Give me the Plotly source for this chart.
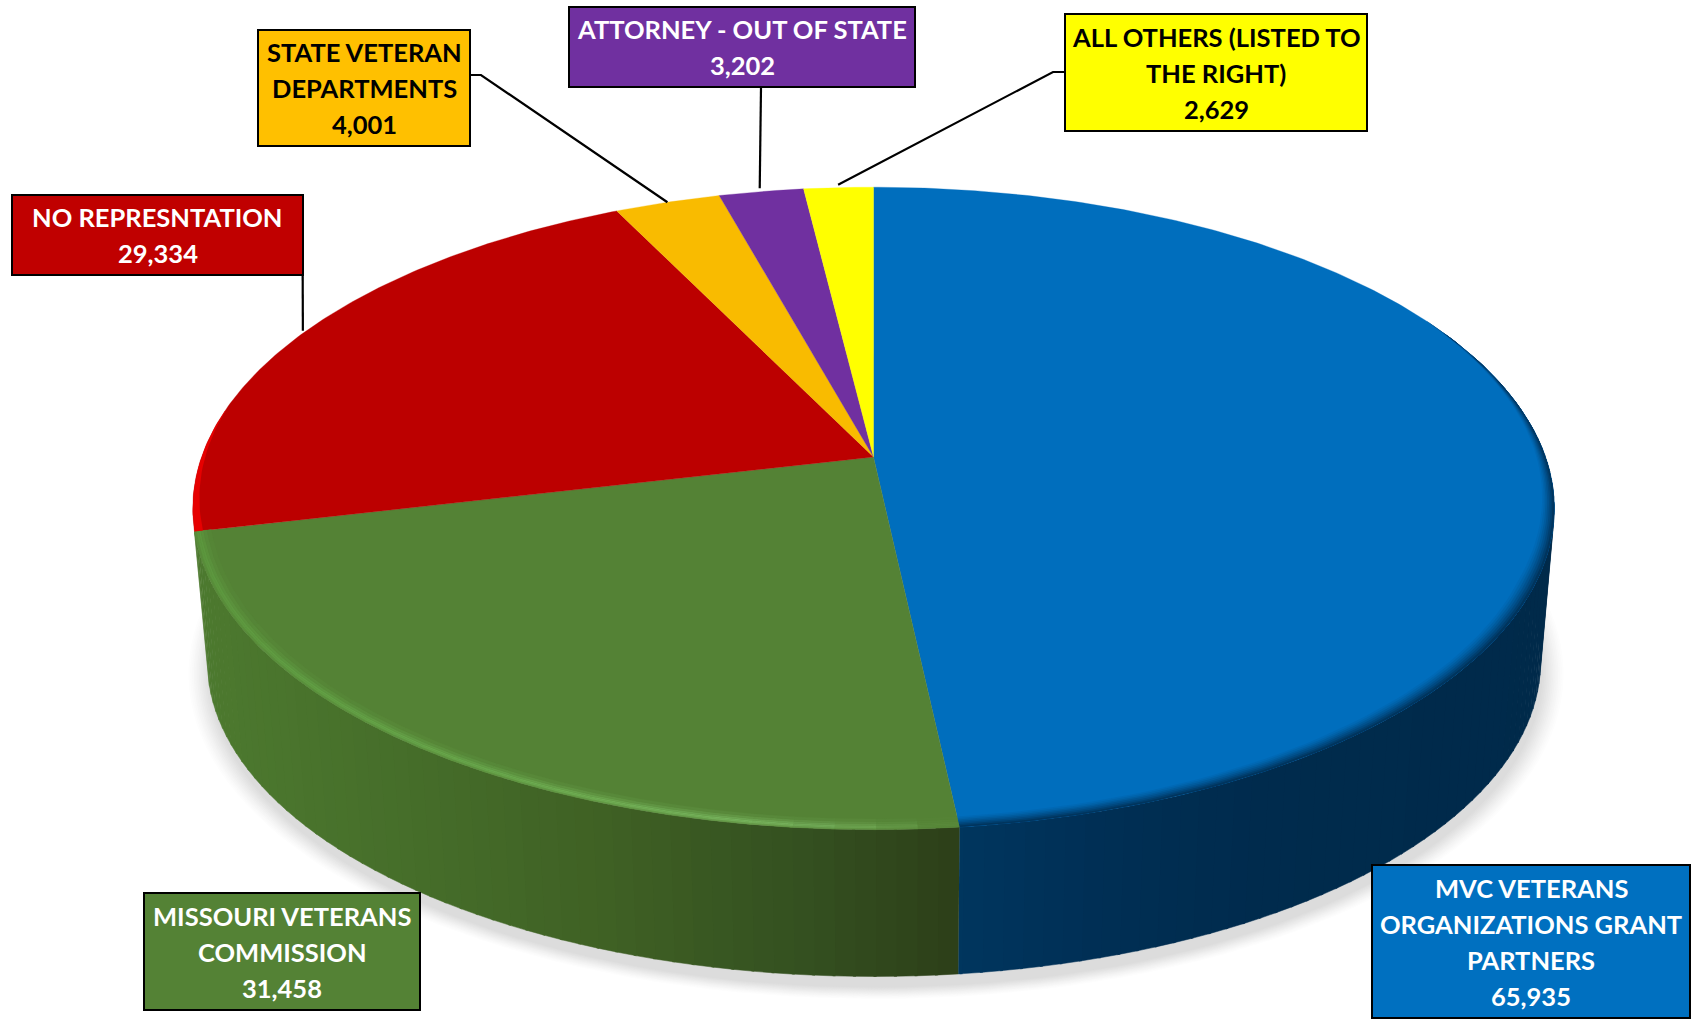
import numpy as np
import plotly.graph_objects as go

# ---- data (clockwise from 12 o'clock) ----
categories = ["MVC VETERANS ORGANIZATIONS GRANT PARTNERS", "MISSOURI VETERANS COMMISSION",
              "NO REPRESNTATION", "STATE VETERAN DEPARTMENTS",
              "ATTORNEY - OUT OF STATE", "ALL OTHERS (LISTED TO THE RIGHT)"]
values = [65935, 31458, 29334, 4001, 3202, 2629]
label_lines = [["MVC VETERANS", "ORGANIZATIONS GRANT", "PARTNERS"],
               ["MISSOURI VETERANS", "COMMISSION"],
               ["NO REPRESNTATION"],
               ["STATE VETERAN", "DEPARTMENTS"],
               ["ATTORNEY - OUT OF STATE"],
               ["ALL OTHERS (LISTED TO", "THE RIGHT)"]]
face_colors = ["#006EBD", "#548235", "#BC0000", "#F9BB00", "#7030A0", "#FFFF00"]
box_colors = ["#0070C0", "#548235", "#C00000", "#FFC000", "#7030A0", "#FFFF00"]
text_colors = ["white", "white", "white", "black", "white", "black"]

# ---- label box layout: x0, y0, x1, y1 ----
boxes = [(1372, 865, 1690, 1018), (144, 893, 420, 1010), (12, 195, 303, 275),
         (258, 30, 470, 146), (569, 7, 915, 87), (1065, 14, 1367, 131)]
leader_starts = [None, None, [(302.5, 225), (302.5, 275)], [(470, 75), (481, 75)],
                 [(761, 87)], [(1065, 72), (1053, 72)]]
leader_reach = [1.0, 1.0, 1.005, 1.0, 1.015, 1.012]

# ---- perspective projection of the pie disc ----
CX, CY, AX, BX, K = 873.5, 457.0, 313.0, 672.0, 0.16
CX2, CY2, AX2, BX2 = 874.0, 611.0, 307.0, 658.0


def top(theta, r=1.0):
    u, v = r * np.sin(np.radians(theta)), r * np.cos(np.radians(theta))
    d = 1 + K * v
    return CX + BX * u / d, CY - AX * v / d


def base(theta, s=1.0, dy=0.0, dx=0.0):
    u, v = np.sin(np.radians(theta)), np.cos(np.radians(theta))
    d = 1 + K * v
    return CX2 + dx + s * BX2 * u / d, CY2 + dy - s * AX2 * v / d


def hex2rgb(c):
    c = c.lstrip("#")
    return np.array([int(c[i:i + 2], 16) for i in (0, 2, 4)], float)


def mix(a, b, t):
    t = min(max(t, 0), 1)
    return "#%02X%02X%02X" % tuple(int(round(x)) for x in hex2rgb(a) * (1 - t) + hex2rgb(b) * t)


def ramp(stops, x):
    xs = [s[0] for s in stops]
    rgb = np.array([hex2rgb(s[1]) for s in stops])
    return "#%02X%02X%02X" % tuple(int(round(np.interp(x, xs, rgb[:, i]))) for i in range(3))


fig = go.Figure()


def poly(xs, ys, color, lw=0.7):
    fig.add_trace(go.Scatter(x=list(xs), y=list(ys), mode="lines", fill="toself", fillcolor=color,
                             line=dict(color=color, width=lw), hoverinfo="skip", showlegend=False))


total = sum(values)
edges = np.concatenate([[0], np.cumsum(values)]) / total * 360.0

# soft shadow
ang = np.linspace(0, 360, 181)
n_sh = 14
for i in range(n_sh):
    t = i / (n_sh - 1)
    s = 1.034 - 0.034 * t
    x, y = base(ang, s=s, dy=11, dx=2)
    poly(x, y, mix("#FFFFFF", "#DCDCDC", t ** 1.2), lw=0)

# side wall
green_wall = [(190, "#4D7A2F"), (400, "#466E2A"), (600, "#3F6124"), (800, "#345020"), (958, "#2C3F18")]
blue_wall = [(958, "#00365E"), (1100, "#002F55"), (1250, "#002B4D"), (1560, "#002A4A")]
step = 1.5
for lo, hi, stops in [(85.0, edges[1], blue_wall), (edges[1], edges[2], green_wall)]:
    starts = np.arange(lo, hi, step)
    for a0 in starts:
        a1 = min(a0 + step + 0.2, hi)
        xa, ya = top(np.array([a0, a1]))
        xb, yb = base(np.array([a1, a0]))
        xm = (xa.mean() + xb.mean()) / 2
        poly(np.r_[xa, xb], np.r_[ya, yb], ramp(stops, xm), lw=0.5)

# top face slices
for i, col in enumerate(face_colors):
    t = np.linspace(edges[i], edges[i + 1], max(int(edges[i + 1] - edges[i]) * 2, 6))
    x, y = top(t)
    poly(np.r_[CX, x, CX], np.r_[CY, y, CY], col, lw=0.3)

# blue bevel: blurred transition into the dark wall (widest / lightest ring first)
n_r = 7
tb = np.linspace(62, edges[1], 90)
wb = np.clip((tb - 62) / 50, 0, 1)
for j in range(n_r):
    f0 = 1 - j / n_r
    rin = 1 - 0.024 * wb * f0
    xo, yo = top(tb)
    xi, yi = top(tb[::-1], rin[::-1])
    poly(np.r_[xo, xi], np.r_[yo, yi], mix("#006EBD", "#00355E", ((j + 1) / n_r) ** 1.3), lw=0)

# green bevel highlight
hl = [(190, "#5C963E"), (360, "#64A247"), (560, "#6EAC52"), (760, "#78B45F"), (880, "#689E4C"), (958, "#548235")]
seg = 3.0
profile = [(1.000, 0.997, 0.5), (0.997, 0.994, 0.9), (0.994, 0.991, 1.0),
           (0.991, 0.987, 0.7), (0.987, 0.982, 0.4), (0.982, 0.976, 0.15)]
for a0 in np.arange(edges[1], edges[2], seg):
    a1 = min(a0 + seg + 0.2, edges[2])
    tt = np.linspace(a0, a1, 4)
    xc, _ = top((a0 + a1) / 2)
    col = ramp(hl, xc)
    for r0, r1, w in profile:
        xo, yo = top(tt, r0)
        xi, yi = top(tt[::-1], r1)
        poly(np.r_[xo, xi], np.r_[yo, yi], mix("#548235", col, w), lw=0.3)

# bright sliver on the left of the red slice
tr = np.linspace(edges[2], edges[2] + 22, 24)
wr = 0.011 * (1 - (tr - tr[0]) / 22) + 0.001
xo, yo = top(tr)
xi, yi = top(tr[::-1], (1 - wr)[::-1])
poly(np.r_[xo, xi], np.r_[yo, yi], "#E60000", lw=0)

# leader lines ending on the rim at each slice's mid angle
for i, st in enumerate(leader_starts):
    if not st:
        continue
    ex, ey = top((edges[i] + edges[i + 1]) / 2, leader_reach[i])
    pts = list(st) + [(float(ex), float(ey))]
    fig.add_trace(go.Scatter(x=[p[0] for p in pts], y=[p[1] for p in pts], mode="lines",
                             line=dict(color="black", width=2.2), hoverinfo="skip", showlegend=False))

# label boxes and text
shapes, annos = [], []
LINE = 36
for i, (x0, y0, x1, y1) in enumerate(boxes):
    shapes.append(dict(type="rect", xref="x", yref="y", x0=x0, y0=y0, x1=x1, y1=y1,
                       fillcolor=box_colors[i], line=dict(color="black", width=2), layer="above"))
    lines = label_lines[i] + [f"{values[i]:,}"]
    yc = (y0 + y1) / 2
    for k, txt in enumerate(lines):
        annos.append(dict(x=(x0 + x1) / 2, y=yc + (k - (len(lines) - 1) / 2) * LINE, xref="x", yref="y",
                          text=txt, showarrow=False, xanchor="center", yanchor="middle",
                          font=dict(family="Lato", size=25.5, color=text_colors[i], weight=700)))

fig.update_layout(width=1691, height=1022, margin=dict(l=0, r=0, t=0, b=0),
                  paper_bgcolor="white", plot_bgcolor="white", showlegend=False,
                  shapes=shapes, annotations=annos,
                  xaxis=dict(range=[0, 1691], visible=False, fixedrange=True),
                  yaxis=dict(range=[1022, 0], visible=False, fixedrange=True))
fig.write_html("out.html", config=dict(displayModeBar=False),
               post_script="document.body.style.margin='0';document.body.style.overflow='hidden';")
